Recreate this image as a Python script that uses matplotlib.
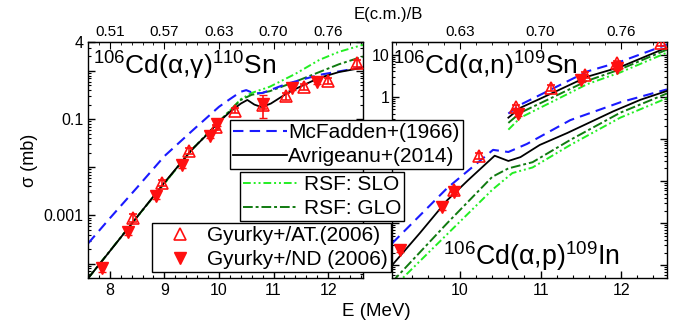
import matplotlib
matplotlib.use("Agg")
import matplotlib.pyplot as plt
from matplotlib.lines import Line2D
from matplotlib.ticker import LogLocator, NullFormatter, MultipleLocator, FixedLocator
import numpy as np

plt.rcParams['font.family'] = ['Liberation Sans', 'DejaVu Sans']
plt.rcParams['mathtext.fontset'] = 'custom'
plt.rcParams['mathtext.rm'] = 'Liberation Sans'
plt.rcParams['mathtext.it'] = 'Liberation Sans:italic'

# ---------------- data: 106Cd(a,g)110Sn (left panel) ----------------
g_E_avr = [7.6, 8.0, 8.5, 9.0, 9.5, 9.8, 10.0, 10.2, 10.4, 10.52, 10.65, 10.78, 10.95, 11.24, 11.5, 11.84, 12.2, 12.64]
g_S_avr = [4.9e-5, 1.8e-4, 9.3e-4, 4.8e-3, 0.023, 0.050, 0.088, 0.14, 0.21, 0.25, 0.20, 0.178, 0.21, 0.34, 0.48, 0.72, 0.95, 1.17]
g_E_mcf = [7.6, 8.0, 8.5, 9.0, 9.5, 10.0, 10.2, 10.4, 10.5, 10.65, 10.8, 11.24, 11.84, 12.64]
g_S_mcf = [2.6e-4, 8.7e-4, 3.8e-3, 0.017, 0.056, 0.18, 0.26, 0.37, 0.40, 0.34, 0.35, 0.54, 0.83, 1.2]
g_E_rsf = [7.6, 8.5, 9.5, 10.0, 10.2, 10.4, 10.6, 10.93, 11.4, 11.84, 12.2, 12.64]
g_S_slo = [4.9e-5, 9.3e-4, 0.023, 0.088, 0.15, 0.26, 0.35, 0.47, 0.87, 1.7, 2.5, 3.5]
g_S_glo = [4.9e-5, 9.3e-4, 0.023, 0.088, 0.15, 0.25, 0.32, 0.38, 0.60, 0.95, 1.38, 2.0]

g_E_at = [8.42, 8.95, 9.45, 9.94, 10.30, 10.80, 11.22, 11.55, 12.0, 12.53]
g_S_at = [9.0e-4, 4.7e-3, 0.022, 0.068, 0.15, 0.20, 0.30, 0.47, 0.62, 1.45]
g_R_at = [0.2, 0.15, 0.15, 0.12, 0.12, 0.2, 0.15, 0.15, 0.15, 0.15]
g_E_nd = [7.85, 8.33, 8.84, 9.33, 9.83, 9.97, 10.8, 11.33, 11.8]
g_S_nd = [7.9e-5, 4.5e-4, 2.5e-3, 0.011, 0.045, 0.08, 0.21, 0.45, 0.60]
g_R_nd = [0.15, 0.15, 0.12, 0.12, 0.12, 0.12, 0.5, 0.12, 0.12]

# ---------------- data: 106Cd(a,p)109In and (a,n)109Sn (right panel) ----------------
p_E_avr = [9.155, 9.5, 9.84, 10.1, 10.43, 10.6, 10.75, 10.99, 11.33, 11.9, 12.24, 12.57]
p_S_avr = [1.0e-4, 5.8e-4, 3.5e-3, 0.0105, 0.040, 0.030, 0.037, 0.072, 0.138, 0.45, 0.85, 1.38]
p_E_mcf = [9.155, 9.84, 10.41, 10.6, 10.83, 11.37, 11.99, 12.57]
p_S_mcf = [3.3e-4, 6.8e-3, 0.055, 0.049, 0.076, 0.28, 0.74, 1.5]
p_E_glo = [9.155, 9.84, 10.4, 10.6, 10.9, 11.37, 11.99, 12.57]
p_S_glo = [4.0e-5, 1.0e-3, 0.0126, 0.020, 0.028, 0.095, 0.42, 1.2]
p_E_slo = [9.155, 10.4, 10.65, 10.9, 11.37, 11.99, 12.57]
p_S_slo = [2.8e-5, 6.2e-3, 0.0155, 0.021, 0.072, 0.32, 0.93]

n_E_avr = [10.6, 10.75, 11.0, 11.58, 11.99, 12.57]
n_S_avr = [0.32, 0.55, 0.91, 3.0, 5.1, 14.8]
n_E_th = [10.6, 10.75, 11.58, 11.99, 12.57]
n_S_mcf = [0.40, 0.65, 4.0, 6.8, 17.4]
n_S_glo = [0.24, 0.42, 2.4, 4.5, 13.2]
n_S_slo = [0.166, 0.32, 2.0, 3.8, 11.2]

p_E_at = [9.93, 10.23]
p_S_at = [6.3e-3, 0.040]
p_E_nd = [9.26, 9.78, 9.93]
p_S_nd = [2.3e-4, 2.4e-3, 5.6e-3]
n_E_at = [10.7, 11.13, 11.55, 11.95, 12.5]
n_S_at = [0.56, 1.66, 3.3, 6.3, 18.6]
n_E_nd = [10.72, 11.5, 11.95]
n_S_nd = [0.40, 2.5, 4.9]

top_ticks_left = [8, 9, 10, 11, 12]
top_labels_left = ['0.51', '0.57', '0.63', '0.70', '0.76']
top_ticks_right = [10, 11, 12]
top_labels_right = ['0.63', '0.70', '0.76']

# ---------------- styles ----------------
BLUE = '#1a1aff'
BGREEN = '#22ee22'
DGREEN = '#107a10'
RED = '#ff1010'
ls_mcf = dict(color=BLUE, lw=1.5, dashes=(5, 3))
ls_avr = dict(color='black', lw=1.3)
ls_slo = dict(color=BGREEN, lw=1.4, dashes=(4, 1.5, 1, 1.5, 1, 1.5))
ls_glo = dict(color=DGREEN, lw=1.4, dashes=(5, 1.5, 1.5, 1.5))

W, H = 675, 328
fig = plt.figure(figsize=(W / 100, H / 100), dpi=100)
axL = fig.add_axes([88 / W, 1 - 278 / H, 275 / W, 236 / H])
axR = fig.add_axes([392 / W, 1 - 278 / H, 275 / W, 236 / H])


def at_points(ax, E, S, R=None):
    S = np.array(S)
    err = S * (np.array(R) if R is not None else 0.15)
    ax.errorbar(E, S, yerr=err, fmt='^', ms=8, mfc='none', mec=RED, mew=1.2,
                ecolor=RED, elinewidth=1.2, capsize=3, zorder=4)


def nd_points(ax, E, S, R=None):
    S = np.array(S)
    err = S * (np.array(R) if R is not None else 0.12)
    ax.errorbar(E, S, yerr=err, fmt='v', ms=8, mfc=RED, mec=RED,
                ecolor=RED, elinewidth=1.2, capsize=3, zorder=4)


# left panel
axL.plot(g_E_rsf, g_S_slo, **ls_slo)
axL.plot(g_E_rsf, g_S_glo, **ls_glo)
axL.plot(g_E_mcf, g_S_mcf, **ls_mcf)
axL.plot(g_E_avr, g_S_avr, **ls_avr)
at_points(axL, g_E_at, g_S_at, g_R_at)
nd_points(axL, g_E_nd, g_S_nd, g_R_nd)

# right panel
for E, S, st in [(p_E_slo, p_S_slo, ls_slo), (p_E_glo, p_S_glo, ls_glo),
                 (p_E_mcf, p_S_mcf, ls_mcf), (p_E_avr, p_S_avr, ls_avr),
                 (n_E_th, n_S_slo, ls_slo), (n_E_th, n_S_glo, ls_glo),
                 (n_E_th, n_S_mcf, ls_mcf), (n_E_avr, n_S_avr, ls_avr)]:
    axR.plot(E, S, **st)
at_points(axR, p_E_at, p_S_at)
nd_points(axR, p_E_nd, p_S_nd)
at_points(axR, n_E_at, n_S_at)
nd_points(axR, n_E_nd, n_S_nd)

# axes setup
for ax in (axL, axR):
    ax.set_yscale('log')
    ax.xaxis.set_major_locator(MultipleLocator(1))
    ax.xaxis.set_minor_locator(MultipleLocator(0.2))
    ax.yaxis.set_minor_locator(LogLocator(base=10, subs=np.arange(2, 10)))
    ax.yaxis.set_minor_formatter(NullFormatter())
    ax.tick_params(which='both', direction='in', top=False, right=True, labelsize=11.5)
    ax.tick_params(which='major', length=5, width=1)
    ax.tick_params(which='minor', length=2.5, width=0.8)
    for s in ax.spines.values():
        s.set_linewidth(1.0)

axL.set_xlim(7.6, 12.64)
axL.set_ylim(5e-5, 4)
axL.yaxis.set_major_locator(FixedLocator([1e-4, 1e-3, 1e-2, 1e-1, 1, 4]))
axL.set_yticklabels(['', '0.001', '', '0.1', '', '4'])
axL.set_xticks([8, 9, 10, 11, 12])
axL.set_xticklabels(['8', '9', '10', '11', '12'])

axR.set_xlim(9.155, 12.57)
axR.set_ylim(5e-5, 20)
axR.yaxis.set_major_locator(FixedLocator([1e-4, 1e-3, 1e-2, 1e-1, 1, 10]))
axR.set_yticklabels(['', '', '', '', '1', '10'])
axR.set_xticks([10, 11, 12])
axR.set_xticklabels(['10', '11', '12'])
axR.tick_params(axis='y', pad=2)

# top axes
for ax, tk, lb in [(axL, top_ticks_left, top_labels_left), (axR, top_ticks_right, top_labels_right)]:
    sec = ax.secondary_xaxis('top')
    sec.set_xticks(tk)
    sec.set_xticklabels(lb)
    sec.xaxis.set_minor_locator(MultipleLocator(0.2))
    sec.tick_params(which='both', direction='in', labelsize=11, pad=2)
    sec.tick_params(which='major', length=5)
    sec.tick_params(which='minor', length=2.5)

# reaction labels
axL.text(0.018, 0.86, r'$^{106}$Cd(α,γ)$^{110}$Sn', transform=axL.transAxes,
         fontsize=19, va='baseline', ha='left')
axR.text(0.005, 0.86, r'$^{106}$Cd(α,n)$^{109}$Sn', transform=axR.transAxes,
         fontsize=19, va='baseline', ha='left')
axR.text(0.185, 0.055, r'$^{106}$Cd(α,p)$^{109}$In', transform=axR.transAxes,
         fontsize=19.3, va='baseline', ha='left')

# axis titles
fig.text(30 / W, 1 - 160 / H, 'σ (mb)', rotation=90, ha='center', va='center', fontsize=13)
fig.text(376 / W, 1 - 311 / H, 'E (MeV)', ha='center', va='center', fontsize=13.5)
fig.text(388 / W, 1 - 14 / H, 'E(c.m.)/B', ha='center', va='center', fontsize=12)

# legends
lkw = dict(loc='upper left', fontsize=15, frameon=True, fancybox=False, framealpha=1,
           edgecolor='black', borderaxespad=0, borderpad=0.15, labelspacing=0.25,
           handletextpad=0.05, handlelength=2.6)
h1 = [Line2D([], [], **ls_mcf), Line2D([], [], **ls_avr)]
leg1 = fig.legend(h1, ['McFadden+(1966)', 'Avrigeanu+(2014)'],
                  bbox_to_anchor=(230 / W, 1 - 120 / H), **lkw)
h2 = [Line2D([], [], **ls_slo), Line2D([], [], **ls_glo)]
lkw2 = dict(lkw)
lkw2['handletextpad'] = 0.3
leg2 = fig.legend(h2, ['RSF: SLO', 'RSF: GLO'],
                  bbox_to_anchor=(240 / W, 1 - 172 / H), **lkw2)
h3 = [Line2D([], [], ls='none', marker='^', ms=9, mfc='none', mec=RED, mew=1.2),
      Line2D([], [], ls='none', marker='v', ms=9, mfc=RED, mec=RED)]
lkw3 = dict(lkw)
lkw3['handlelength'] = 2.4
lkw3['handletextpad'] = 0.1
leg3 = fig.legend(h3, ['Gyurky+/AT.(2006)', 'Gyurky+/ND (2006)'],
                  bbox_to_anchor=(152 / W, 1 - 223 / H), **lkw3)
for lg in (leg1, leg2, leg3):
    lg.get_frame().set_linewidth(1.0)
    lg.set_zorder(10)

fig.savefig('out.png', dpi=100)
